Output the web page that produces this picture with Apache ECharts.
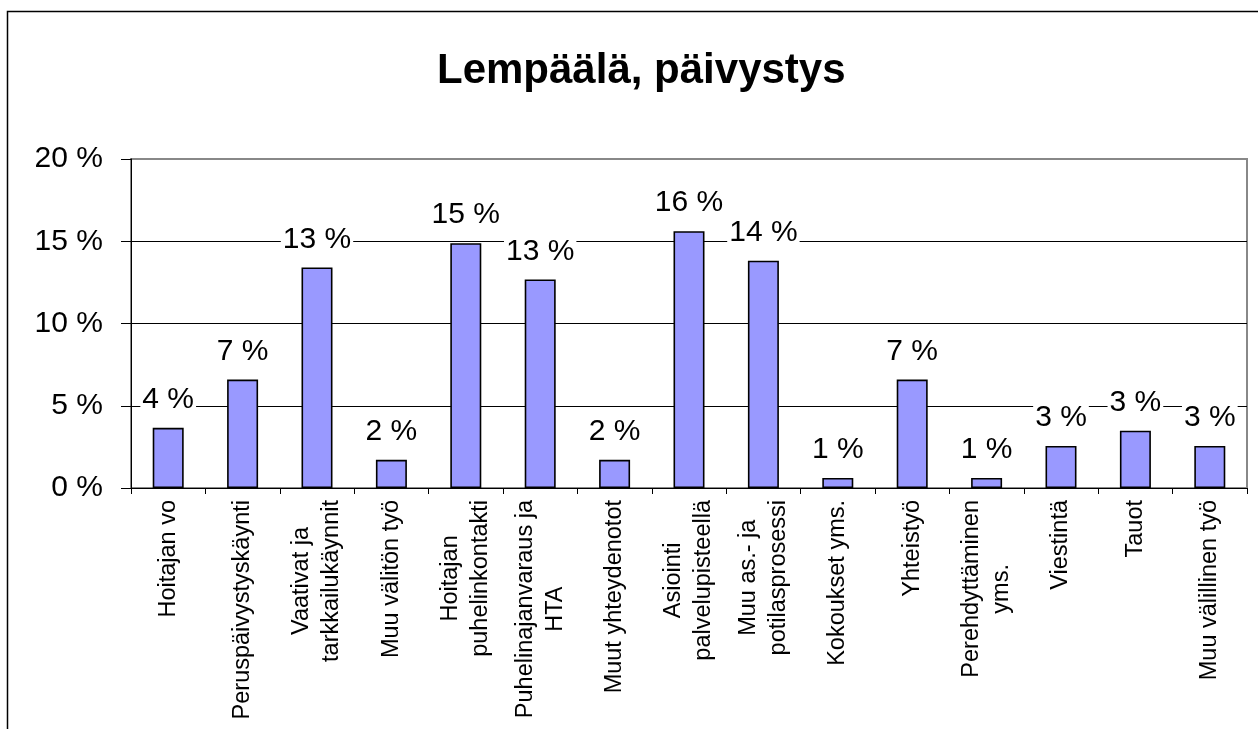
<!DOCTYPE html>
<html>
<head>
<meta charset="utf-8">
<script src="https://cdn.jsdelivr.net/npm/echarts@6/dist/echarts.min.js"></script>
<style>
  html, body { margin: 0; padding: 0; background: #fff; }
  #chart { width: 1258px; height: 729px; }
</style>
</head>
<body>
<div id="chart"></div>
<script>
// values (percent)
var categories = [
  'Hoitajan vo',
  'Peruspäivystyskäynti',
  'Vaativat ja\ntarkkailukäynnit',
  'Muu välitön työ',
  'Hoitajan\npuhelinkontakti',
  'Puhelinajanvaraus ja\nHTA',
  'Muut yhteydenotot',
  'Asiointi\npalvelupisteellä',
  'Muu as.- ja\npotilasprosessi',
  'Kokoukset yms.',
  'Yhteistyö',
  'Perehdyttäminen\nyms.',
  'Viestintä',
  'Tauot',
  'Muu välillinen työ'
];
var shares = [3.66, 6.59, 13.41, 1.71, 14.88, 12.68, 1.71, 15.61, 13.82, 0.61, 6.59, 0.61, 2.56, 3.48, 2.56];
var yTicks = [0, 5, 10, 15, 20];

var font = '"Liberation Sans", Arial, sans-serif';

var myChart = echarts.init(document.getElementById('chart'));
myChart.setOption({
  animation: false,
  backgroundColor: '#fff',
  title: {
    text: 'Lempäälä, päivystys',
    left: 432,
    top: 45,
    textStyle: { fontFamily: font, fontSize: 42, fontWeight: 'bold', color: '#000' }
  },
  graphic: [{
    type: 'rect',
    z: -1,
    shape: { x: 7.5, y: 11.5, width: 1400, height: 900 },
    style: { fill: null, stroke: '#000', lineWidth: 1.5 }
  }],
  grid: {
    left: 131, right: 11, top: 159, bottom: 241,
    show: true, borderColor: '#888', borderWidth: 2
  },
  xAxis: {
    type: 'category',
    data: categories,
    axisLine: { lineStyle: { color: '#000', width: 1 } },
    axisTick: { show: true, length: 6, lineStyle: { color: '#000' } },
    axisLabel: {
      rotate: 90,
      margin: 12,
      interval: 0,
      color: '#000',
      formatter: function (v) {
        return v.split('\n').map(function (s) { return '{c|' + s + '}'; }).join('\n');
      },
      rich: {
        c: { fontFamily: font, fontSize: 23.5, lineHeight: 30, align: 'center', color: '#000' }
      }
    }
  },
  yAxis: {
    type: 'value',
    min: yTicks[0],
    max: yTicks[yTicks.length - 1],
    interval: 5,
    axisLine: { show: true, lineStyle: { color: '#000', width: 1 } },
    axisTick: { show: true, length: 10, lineStyle: { color: '#000' } },
    axisLabel: {
      margin: 28,
      fontFamily: font, fontSize: 30, color: '#000',
      formatter: '{value} %'
    },
    splitLine: { lineStyle: { color: ['#000', '#000', '#000', '#000', '#888'], width: 1 } }
  },
  series: [{
    type: 'bar',
    data: shares,
    barWidth: 31,
    itemStyle: { color: '#9999FF', borderColor: '#000', borderWidth: 1.6 },
    label: {
      show: true,
      position: 'top',
      distance: 13,
      fontFamily: font,
      fontSize: 30,
      color: '#000',
      backgroundColor: '#fff',
      padding: [0, 2],
      formatter: function (p) { return Math.round(p.value) + ' %'; }
    }
  }]
});
</script>
</body>
</html>
